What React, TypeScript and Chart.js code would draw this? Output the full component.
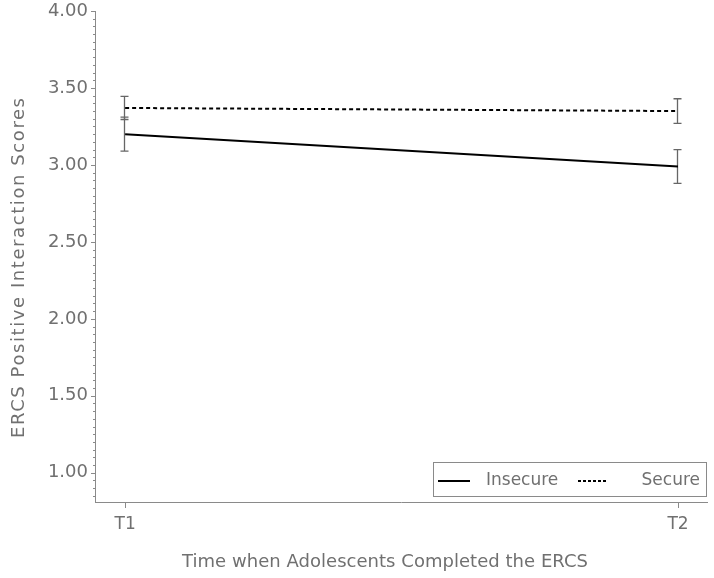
import React, { useEffect, useRef } from 'react';
import { Chart, registerables } from 'chart.js';

Chart.register(...registerables);

const categories = ['T1', 'T2'];
const xPositions = [1, 2];
const insecureMeans = [3.2, 2.99];
const insecureErrors = [0.11, 0.11];
const secureMeans = [3.37, 3.35];
const secureErrors = [0.075, 0.08];
const yMajorTicks = [1.0, 1.5, 2.0, 2.5, 3.0, 3.5, 4.0];
const seriesNames = ['Insecure', 'Secure'];
const xTitle = 'Time when Adolescents Completed the ERCS';
const yTitle = 'ERCS Positive Interaction Scores';

const FONT_FAMILY = "'DejaVu Sans', sans-serif";
const TEXT_COLOR = '#707070';
const AXIS_COLOR = '#8a8a8a';

function fitText(ctx: any, text: string, cx: number, cy: number, target: number) {
  ctx.letterSpacing = '0px';
  const w = ctx.measureText(text).width;
  const sp = Math.max(0, (target - w) / (text.length - 1));
  ctx.letterSpacing = `${sp}px`;
  const w2 = ctx.measureText(text).width;
  ctx.textAlign = 'left';
  ctx.fillText(text, cx - (w2 - sp) / 2, cy);
  ctx.letterSpacing = '0px';
}

const overlayPlugin = {
  id: 'overlay',
  beforeDatasetsDraw(chart: any) {
    const ctx = chart.ctx;
    const xs = chart.scales.x;
    const ys = chart.scales.y;
    ctx.save();
    ctx.strokeStyle = '#666666';
    ctx.lineWidth = 1.3;
    const groups = [
      { m: insecureMeans, e: insecureErrors },
      { m: secureMeans, e: secureErrors },
    ];
    groups.forEach((g) => {
      g.m.forEach((mv, i) => {
        const px = Math.round(xs.getPixelForValue(xPositions[i])) - 0.5;
        const top = ys.getPixelForValue(mv + g.e[i]);
        const bot = ys.getPixelForValue(mv - g.e[i]);
        ctx.beginPath();
        ctx.moveTo(px, top);
        ctx.lineTo(px, bot);
        ctx.moveTo(px - 4, top);
        ctx.lineTo(px + 4, top);
        ctx.moveTo(px - 4, bot);
        ctx.lineTo(px + 4, bot);
        ctx.stroke();
      });
    });
    ctx.restore();
  },
  afterDraw(chart: any) {
    const ctx = chart.ctx;
    const xs = chart.scales.x;
    const ys = chart.scales.y;
    const area = chart.chartArea;
    ctx.save();
    ctx.strokeStyle = AXIS_COLOR;
    ctx.lineWidth = 1;
    // y minor/major ticks
    for (let k = 0; ; k++) {
      const v = 4.0 - k * 0.05;
      if (v < ys.min - 1e-9) break;
      const py = Math.round(ys.getPixelForValue(v)) + 0.5;
      const isMajor = Math.abs(v * 2 - Math.round(v * 2)) < 1e-6;
      ctx.beginPath();
      ctx.moveTo(area.left, py);
      ctx.lineTo(area.left - (isMajor ? 4 : 2), py);
      ctx.stroke();
    }
    // x ticks
    xPositions.forEach((xv) => {
      const px = Math.round(xs.getPixelForValue(xv)) + 0.5;
      ctx.beginPath();
      ctx.moveTo(px, area.bottom);
      ctx.lineTo(px, area.bottom + 6);
      ctx.stroke();
    });
    // axis titles
    ctx.fillStyle = TEXT_COLOR;
    ctx.font = `18px ${FONT_FAMILY}`;
    ctx.textBaseline = 'middle';
    fitText(ctx, xTitle, 385, 562, 406);
    ctx.save();
    ctx.translate(19, 268);
    ctx.rotate(-Math.PI / 2);
    fitText(ctx, yTitle, 0, 0, 340);
    ctx.restore();
    // legend
    const bx = 433, by = 462, bw = 273, bh = 34;
    ctx.strokeStyle = '#8a8a8a';
    ctx.lineWidth = 1;
    ctx.strokeRect(bx + 0.5, by + 0.5, bw, bh);
    const cy = by + bh / 2 + 2;
    ctx.strokeStyle = '#000000';
    ctx.lineWidth = 2;
    ctx.beginPath();
    ctx.moveTo(438, cy);
    ctx.lineTo(470, cy);
    ctx.stroke();
    ctx.setLineDash([3, 2]);
    ctx.beginPath();
    ctx.moveTo(578, cy);
    ctx.lineTo(606, cy);
    ctx.stroke();
    ctx.setLineDash([]);
    ctx.fillStyle = TEXT_COLOR;
    ctx.font = `17px ${FONT_FAMILY}`;
    ctx.textBaseline = 'middle';
    ctx.textAlign = 'left';
    ctx.fillText(seriesNames[0], 486, cy);
    ctx.textAlign = 'right';
    ctx.fillText(seriesNames[1], 700, cy);
    ctx.restore();
  },
};

export default function App() {
  const ref = useRef<HTMLCanvasElement | null>(null);
  useEffect(() => {
    if (!ref.current) return;
    const chart = new Chart(ref.current, {
      type: 'line',
      data: {
        datasets: [
          {
            label: seriesNames[0],
            data: xPositions.map((x, i) => ({ x, y: insecureMeans[i] })),
            borderColor: '#000000',
            borderWidth: 2,
            pointRadius: 0,
            fill: false,
          },
          {
            label: seriesNames[1],
            data: xPositions.map((x, i) => ({ x, y: secureMeans[i] })),
            borderColor: '#000000',
            borderWidth: 2,
            borderDash: [4, 3],
            pointRadius: 0,
            fill: false,
          },
        ],
      },
      options: {
        responsive: false,
        animation: false,
        layout: { padding: { top: 11, right: 7, left: 0, bottom: 0 } },
        plugins: {
          legend: { display: false },
          tooltip: { enabled: false },
        },
        scales: {
          x: {
            type: 'linear',
            min: 0.9455,
            max: 2.0525,
            afterBuildTicks: (s: any) => {
              s.ticks = xPositions.map((v) => ({ value: v }));
            },
            afterFit: (s: any) => {
              s.height = 76;
              s.paddingLeft = 0;
              s.paddingRight = 0;
            },
            grid: { display: false, drawTicks: false },
            border: { display: true, color: AXIS_COLOR, width: 1 },
            ticks: {
              padding: 12,
              color: TEXT_COLOR,
              font: { family: FONT_FAMILY, size: 17 },
              maxRotation: 0,
              callback: (v: any) => categories[xPositions.indexOf(Number(v))] ?? '',
            },
          },
          y: {
            type: 'linear',
            min: 0.81,
            max: 4.0,
            afterBuildTicks: (s: any) => {
              s.ticks = yMajorTicks.map((v) => ({ value: v }));
            },
            afterFit: (s: any) => {
              s.width = 95;
              s.paddingTop = 0;
              s.paddingBottom = 0;
            },
            grid: { display: false, drawTicks: false },
            border: { display: true, color: AXIS_COLOR, width: 1 },
            ticks: {
              padding: 7,
              color: TEXT_COLOR,
              font: { family: FONT_FAMILY, size: 18 },
              callback: (v: any) => Number(v).toFixed(2),
            },
          },
        },
      },
      plugins: [overlayPlugin],
    });
    return () => chart.destroy();
  }, []);
  return (
    <div style={{ position: 'absolute', left: 0, top: 0, width: 714, height: 578 }}>
      <canvas ref={ref} width={714} height={578} style={{ display: 'block' }} />
    </div>
  );
}
